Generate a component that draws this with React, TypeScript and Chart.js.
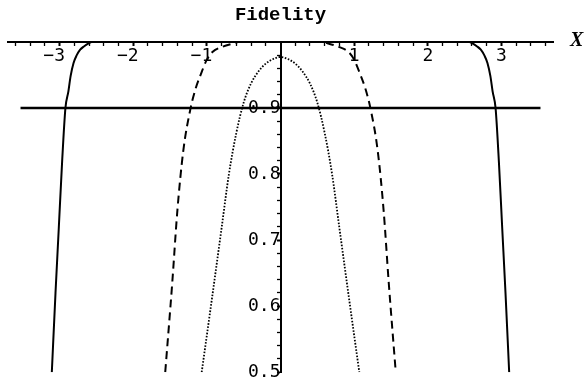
import React, { useEffect, useRef } from "react";
import { Chart, registerables } from "chart.js";

Chart.register(...registerables);

const TITLE = "Fidelity";
const X_AXIS_LABEL = "X";
const X_MIN = -3.7;
const X_MAX = 3.7;
const Y_MIN = 0.5;
const Y_MAX = 1;
const X_MAJOR_TICKS = [-3, -2, -1, 1, 2, 3];
const X_MINOR_TICKS = [
  -3.6, -3.4, -3.2, -2.8, -2.6, -2.4, -2.2, -1.8, -1.6, -1.4, -1.2, -0.8, -0.6, -0.4, -0.2,
  0.2, 0.4, 0.6, 0.8, 1.2, 1.4, 1.6, 1.8, 2.2, 2.4, 2.6, 2.8, 3.2, 3.4, 3.6,
];
const Y_MAJOR_TICKS = [0.5, 0.6, 0.7, 0.8, 0.9];
const Y_MINOR_TICKS = [
  0.52, 0.54, 0.56, 0.58, 0.62, 0.64, 0.66, 0.68, 0.72, 0.74, 0.76, 0.78,
  0.82, 0.84, 0.86, 0.88, 0.92, 0.94, 0.96, 0.98,
];

const THRESHOLD_X = [-3.53, 3.53];
const THRESHOLD_Y = [0.9, 0.9];

const SOLID_X = [
  -3.105, -3.055, -3.01, -2.965, -2.92, -2.88, -2.85, -2.81, -2.77, -2.72, -2.67, -2.6, -2.55,
  0,
  2.55, 2.6, 2.67, 2.72, 2.77, 2.81, 2.85, 2.88, 2.92, 2.965, 3.01, 3.055, 3.105,
];
const SOLID_Y = [
  0.5, 0.62, 0.719, 0.819, 0.9, 0.925, 0.948, 0.968, 0.979, 0.988, 0.993, 0.998, 1,
  1,
  1, 0.998, 0.993, 0.988, 0.979, 0.968, 0.948, 0.925, 0.9, 0.819, 0.719, 0.62, 0.5,
];

const DASHED_X = [
  -1.565, -1.47, -1.4, -1.32, -1.22, -1.15, -1.085, -1.0, -0.92, -0.8, -0.66, -0.55,
  0,
  0.55, 0.66, 0.8, 0.92, 1.0, 1.085, 1.15, 1.22, 1.32, 1.4, 1.47, 1.565,
];
const DASHED_Y = [
  0.5, 0.635, 0.745, 0.835, 0.9, 0.93, 0.95, 0.973, 0.985, 0.992, 0.997, 1,
  1,
  1, 0.997, 0.992, 0.985, 0.973, 0.95, 0.93, 0.9, 0.835, 0.745, 0.635, 0.5,
];

const DOTTED_X = [
  -1.07, -0.93, -0.8, -0.7, -0.6, -0.5, -0.4, -0.3, -0.2, -0.1,
  0,
  0.1, 0.2, 0.3, 0.4, 0.5, 0.6, 0.7, 0.8, 0.93, 1.07,
];
const DOTTED_Y = [
  0.5, 0.612, 0.718, 0.8, 0.862, 0.908, 0.937, 0.955, 0.967, 0.974,
  0.977,
  0.974, 0.967, 0.955, 0.937, 0.908, 0.862, 0.8, 0.718, 0.612, 0.5,
];

const toPoints = (xs: number[], ys: number[]) => xs.map((x, i) => ({ x, y: ys[i] }));
const isIn = (arr: number[], v: number) => arr.some((a) => Math.abs(a - v) < 1e-6);

const axisLabelPlugin = {
  id: "axisLabelX",
  afterDraw(chart: any) {
    const { ctx, chartArea, scales } = chart;
    ctx.save();
    ctx.font = 'bold italic 20px "Liberation Serif"';
    ctx.fillStyle = "#000";
    ctx.textAlign = "left";
    ctx.textBaseline = "middle";
    ctx.fillText(X_AXIS_LABEL, chartArea.right + 17, scales.y.getPixelForValue(Y_MAX) - 1);
    ctx.restore();
  },
};

export default function App() {
  const canvasRef = useRef<HTMLCanvasElement | null>(null);

  useEffect(() => {
    document.body.style.margin = "0";
    const canvas = canvasRef.current;
    if (!canvas) return;
    const xTicks = [...X_MAJOR_TICKS, ...X_MINOR_TICKS].sort((a, b) => a - b);
    const yTicks = [...Y_MAJOR_TICKS, ...Y_MINOR_TICKS].sort((a, b) => a - b);
    const lineBase = {
      borderColor: "#000",
      pointRadius: 0,
      fill: false,
      cubicInterpolationMode: "monotone" as const,
    };
    const chart = new Chart(canvas, {
      type: "line",
      data: {
        datasets: [
          { ...lineBase, data: toPoints(THRESHOLD_X, THRESHOLD_Y), borderWidth: 2.5 },
          { ...lineBase, data: toPoints(SOLID_X, SOLID_Y), borderWidth: 2 },
          { ...lineBase, data: toPoints(DASHED_X, DASHED_Y), borderWidth: 2, borderDash: [8, 5] },
          { ...lineBase, data: toPoints(DOTTED_X, DOTTED_Y), borderWidth: 1.8, borderDash: [1.6, 1.6] },
        ],
      },
      options: {
        responsive: false,
        animation: false,
        layout: { padding: { left: 8, right: 32, top: 0, bottom: 8 } },
        plugins: {
          legend: { display: false },
          tooltip: { enabled: false },
          title: {
            display: true,
            text: TITLE,
            color: "#000",
            font: { family: '"Liberation Mono"', size: 19, weight: "bold" },
            padding: { top: 4, bottom: 15 },
          },
        },
        scales: {
          x: {
            type: "linear",
            min: X_MIN,
            max: X_MAX,
            position: { y: Y_MAX } as any,
            afterBuildTicks: (scale: any) => {
              scale.ticks = xTicks.map((v) => ({ value: v }));
            },
            grid: {
              display: true,
              drawOnChartArea: false,
              drawTicks: true,
              tickLength: 3,
              color: "#000",
              tickWidth: (c: any) => (c.tick && isIn(X_MAJOR_TICKS, c.tick.value) ? 2 : 1.3),
            },
            border: { display: true, color: "#000", width: 2 },
            ticks: {
              autoSkip: false,
              maxRotation: 0,
              padding: 1,
              color: "#000",
              font: { family: '"DejaVu Sans Mono"', size: 18 },
              callback: (v: any) => {
                const n = Number(v);
                if (!isIn(X_MAJOR_TICKS, n)) return "";
                return n < 0 ? "\u2212" + Math.abs(n) + " " : String(n);
              },
            },
          },
          y: {
            type: "linear",
            min: Y_MIN,
            max: Y_MAX,
            position: { x: 0 } as any,
            afterBuildTicks: (scale: any) => {
              scale.ticks = yTicks.map((v) => ({ value: v }));
            },
            grid: {
              display: true,
              drawOnChartArea: false,
              drawTicks: true,
              tickLength: 3,
              color: "#000",
              tickWidth: (c: any) => (c.tick && isIn(Y_MAJOR_TICKS, c.tick.value) ? 2 : 1.3),
            },
            border: { display: true, color: "#000", width: 2 },
            ticks: {
              autoSkip: false,
              padding: 2,
              color: "#000",
              font: { family: '"DejaVu Sans Mono"', size: 18 },
              callback: (v: any) => {
                const n = Number(v);
                return isIn(Y_MAJOR_TICKS, n) ? n.toFixed(1) : "";
              },
            },
          },
        },
      },
      plugins: [axisLabelPlugin],
    });
    return () => chart.destroy();
  }, []);

  return (
    <div style={{ width: 585, height: 385, background: "#fff" }}>
      <canvas ref={canvasRef} width={585} height={385} />
    </div>
  );
}
